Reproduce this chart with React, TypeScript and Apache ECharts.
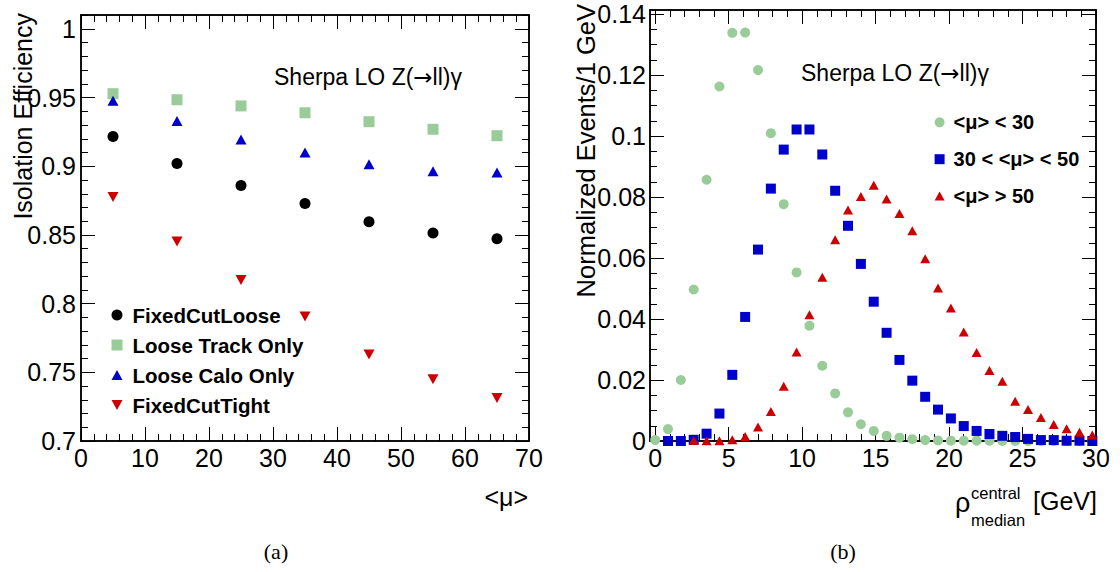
import React, { useEffect, useRef } from 'react';
import * as echarts from 'echarts';

const FONT = '"Liberation Sans", Arial, Helvetica, sans-serif';

// ---------- Panel (a): isolation efficiency vs <mu> ----------
const muValues = [5, 15, 25, 35, 45, 55, 65];
const fixedCutLoose = [0.9218, 0.902, 0.886, 0.873, 0.8597, 0.8515, 0.8473];
const looseTrackOnly = [0.9529, 0.9485, 0.944, 0.939, 0.9325, 0.927, 0.9223];
const looseCaloOnly = [0.9478, 0.933, 0.9195, 0.91, 0.9015, 0.8965, 0.8955];
const fixedCutTight = [0.8777, 0.8453, 0.8172, 0.7907, 0.763, 0.7449, 0.7314];
const muTicks = [0, 10, 20, 30, 40, 50, 60, 70];
const effTicks = [0.7, 0.75, 0.8, 0.85, 0.9, 0.95, 1];

// ---------- Panel (b): rho_median^central distributions ----------
const rhoValues = [
  0, 0.875, 1.75, 2.625, 3.5, 4.375, 5.25, 6.125, 7, 7.875, 8.75, 9.625, 10.5, 11.375,
  12.25, 13.125, 14, 14.875, 15.75, 16.625, 17.5, 18.375, 19.25, 20.125, 21, 21.875,
  22.75, 23.625, 24.5, 25.375, 26.25, 27.125, 28, 28.875, 29.75,
];
const lowMu = [
  0.0003, 0.0039, 0.02, 0.0497, 0.0857, 0.1163, 0.1339, 0.134, 0.1217, 0.101, 0.0777,
  0.0553, 0.0378, 0.0247, 0.0156, 0.0094, 0.0055, 0.0033, 0.0017, 0.0011, 0.0006, 0.0003,
  0.0002, 0.0001, 0.0001, 0.0001, 0.0001, 0, 0, 0, 0, 0, 0, 0, 0,
];
const midMu = [
  null, 0, 0, 0.0004, 0.0024, 0.009, 0.0217, 0.0407, 0.0628, 0.0828, 0.0956, 0.1022,
  0.1022, 0.094, 0.0821, 0.0706, 0.0581, 0.0457, 0.0355, 0.0266, 0.0198, 0.0145, 0.0103,
  0.0074, 0.0049, 0.0033, 0.0023, 0.0017, 0.0013, 0.0007, 0.0003, 0.0003, 0.0001, 0.0001, 0,
];
const highMu = [
  null, null, null, 0.0002, 0.0001, 0.0001, 0.0004, 0.0015, 0.0046, 0.0097, 0.018, 0.0292,
  0.0414, 0.0537, 0.066, 0.0758, 0.0802, 0.0839, 0.0794, 0.0746, 0.069, 0.0598, 0.0502,
  0.0436, 0.0358, 0.029, 0.0231, 0.0196, 0.013, 0.0103, 0.0077, 0.0054, 0.004, 0.0029, 0.002,
];
const rhoTicks = [0, 5, 10, 15, 20, 25, 30];
const eventTicks = [0, 0.02, 0.04, 0.06, 0.08, 0.1, 0.12, 0.14];

const GREEN = '#99cc99';
const BLUE = '#0000cc';
const RED = '#cc0000';
const UP_TRI = 'path://M5,0 L10,9 L0,9 Z';
const DOWN_TRI = 'path://M0,0 L10,0 L5,9 Z';

const pairs = (xs: number[], ys: (number | null)[]) =>
  xs.map((x, i) => [x, ys[i]]).filter((p) => p[1] !== null);

const steps = (a: number, b: number, s: number) => {
  const out: number[] = [];
  const n = Math.round((b - a) / s);
  for (let i = 0; i <= n; i++) out.push(+(a + i * s).toFixed(6));
  return out;
};

const fmt = (v: number) => String(+(+v).toFixed(4));

function mkAxis(
  gridIndex: number,
  position: string,
  min: number,
  max: number,
  ticks: number[],
  len: number,
  labels: number[] | null,
  margin = 5
) {
  return {
    type: 'value',
    gridIndex,
    position,
    min,
    max,
    axisLine: { show: true, onZero: false, lineStyle: { color: '#000', width: 1.5 } },
    axisTick: {
      show: true,
      inside: true,
      length: len,
      customValues: ticks,
      lineStyle: { color: '#000', width: 1 },
    },
    axisLabel: labels
      ? {
          show: true,
          customValues: labels,
          formatter: fmt,
          fontSize: 25,
          fontFamily: FONT,
          color: '#000',
          margin,
          showMinLabel: true,
          showMaxLabel: true,
          hideOverlap: false,
        }
      : { show: false },
    splitLine: { show: false },
    minorTick: { show: false },
    minorSplitLine: { show: false },
  };
}

export default function App() {
  const ref = useRef<HTMLDivElement>(null);

  useEffect(() => {
    if (!ref.current) return;
    const chart = echarts.init(ref.current, undefined, { renderer: 'svg' });

    const aX = [0, 70];
    const aY = [0.7, 1.0102];
    const bX = [-0.35, 30];
    const bY = [0, 0.1414];

    const aXMinor = steps(0, 70, 2);
    const aYMinor = steps(0.7, 1.01, 0.01);
    const bXMinor = steps(0, 30, 1);
    const bYMinor = steps(0, 0.14, 0.005);

    const MAJ = 14;
    const MIN = 7;

    const xAxis = [
      mkAxis(0, 'bottom', aX[0], aX[1], muTicks, MAJ, muTicks, 4),
      mkAxis(0, 'bottom', aX[0], aX[1], aXMinor, MIN, null),
      mkAxis(0, 'top', aX[0], aX[1], muTicks, MAJ, null),
      mkAxis(0, 'top', aX[0], aX[1], aXMinor, MIN, null),
      mkAxis(1, 'bottom', bX[0], bX[1], rhoTicks, MAJ, rhoTicks, 4),
      mkAxis(1, 'bottom', bX[0], bX[1], bXMinor, MIN, null),
      mkAxis(1, 'top', bX[0], bX[1], rhoTicks, MAJ, null),
      mkAxis(1, 'top', bX[0], bX[1], bXMinor, MIN, null),
    ];
    const yAxis = [
      mkAxis(0, 'left', aY[0], aY[1], effTicks, MAJ, effTicks, 5),
      mkAxis(0, 'left', aY[0], aY[1], aYMinor, MIN, null),
      mkAxis(0, 'right', aY[0], aY[1], effTicks, MAJ, null),
      mkAxis(0, 'right', aY[0], aY[1], aYMinor, MIN, null),
      mkAxis(1, 'left', bY[0], bY[1], eventTicks, MAJ, eventTicks, 4),
      mkAxis(1, 'left', bY[0], bY[1], bYMinor, MIN, null),
      mkAxis(1, 'right', bY[0], bY[1], eventTicks, MAJ, null),
      mkAxis(1, 'right', bY[0], bY[1], bYMinor, MIN, null),
    ];

    const titleStyle = (text: string, size = 25, extra: any = {}) => ({
      text,
      fontSize: size,
      fontFamily: FONT,
      fill: '#000',
      ...extra,
    });

    const sherpa = (x: number, y: number) => ({
      type: 'text',
      x,
      y,
      style: {
        text: '{a|Sherpa LO Z(}{b|→}{a|ll)γ}',
        fill: '#000',
        textAlign: 'left',
        textVerticalAlign: 'middle',
        rich: {
          a: { fontSize: 23, fontFamily: FONT, color: '#000' },
          b: { fontSize: 23, fontFamily: '"DejaVu Sans", sans-serif', color: '#000' },
        },
      },
    });

    const pt = { opacity: 1 };

    chart.setOption({
      animation: false,
      backgroundColor: '#fff',
      grid: [
        { left: 81, right: 591, top: 15, bottom: 131, outerBoundsMode: 'none', containLabel: false },
        { left: 650, right: 24, top: 10, bottom: 131, outerBoundsMode: 'none', containLabel: false },
      ],
      xAxis,
      yAxis,
      legend: [
        {
          orient: 'vertical',
          left: 111.5,
          top: 304.5,
          padding: 0,
          itemGap: 9,
          itemWidth: 11,
          itemHeight: 11,
          selectedMode: false,
          textStyle: {
            fontSize: 20.5, fontWeight: 'bold', fontFamily: FONT, color: '#000',
            padding: [0, 0, 0, 5],
          },
          data: ['FixedCutLoose', 'Loose Track Only', 'Loose Calo Only', 'FixedCutTight'],
        },
        {
          orient: 'vertical',
          left: 934.6,
          top: 112.3,
          padding: 0,
          itemGap: 16.9,
          itemWidth: 10,
          itemHeight: 10,
          selectedMode: false,
          textStyle: {
            fontSize: 20, fontWeight: 'bold', fontFamily: FONT, color: '#000',
            padding: [0, 0, 0, 4],
          },
          data: ['<μ> < 30', '30 < <μ> < 50', '<μ> > 50'],
        },
      ],
      series: [
        {
          type: 'scatter', name: 'FixedCutLoose', xAxisIndex: 0, yAxisIndex: 0,
          data: pairs(muValues, fixedCutLoose), symbol: 'circle', symbolSize: 11,
          itemStyle: { color: '#000', ...pt }, silent: true,
        },
        {
          type: 'scatter', name: 'Loose Track Only', xAxisIndex: 0, yAxisIndex: 0,
          data: pairs(muValues, looseTrackOnly), symbol: 'rect', symbolSize: 11,
          itemStyle: { color: GREEN, ...pt }, silent: true,
        },
        {
          type: 'scatter', name: 'Loose Calo Only', xAxisIndex: 0, yAxisIndex: 0,
          data: pairs(muValues, looseCaloOnly), symbol: UP_TRI, symbolSize: [11, 10],
          itemStyle: { color: BLUE, ...pt }, silent: true,
        },
        {
          type: 'scatter', name: 'FixedCutTight', xAxisIndex: 0, yAxisIndex: 0,
          data: pairs(muValues, fixedCutTight), symbol: DOWN_TRI, symbolSize: [11, 10],
          itemStyle: { color: RED, ...pt }, silent: true,
        },
        {
          type: 'scatter', name: '<μ> < 30', xAxisIndex: 4, yAxisIndex: 4,
          data: pairs(rhoValues, lowMu), symbol: 'circle', symbolSize: 10,
          itemStyle: { color: GREEN, ...pt }, silent: true,
        },
        {
          type: 'scatter', name: '30 < <μ> < 50', xAxisIndex: 4, yAxisIndex: 4,
          data: pairs(rhoValues, midMu), symbol: 'rect', symbolSize: 10,
          itemStyle: { color: BLUE, ...pt }, silent: true,
        },
        {
          type: 'scatter', name: '<μ> > 50', xAxisIndex: 4, yAxisIndex: 4,
          data: pairs(rhoValues, highMu), symbol: UP_TRI, symbolSize: [10, 9],
          itemStyle: { color: RED, ...pt }, silent: true,
        },
      ],
      graphic: [
        sherpa(274, 77),
        sherpa(801, 73),
        {
          type: 'text', x: 22.5, y: 13, rotation: Math.PI / 2,
          style: titleStyle('Isolation Efficiency', 25, { textAlign: 'right', textVerticalAlign: 'middle' }),
        },
        {
          type: 'text', x: 586, y: 4, rotation: Math.PI / 2,
          style: titleStyle('Normalized Events/1 GeV', 25.5, { textAlign: 'right', textVerticalAlign: 'middle' }),
        },
        {
          type: 'text', x: 528, y: 497,
          style: titleStyle('<μ>', 25, { textAlign: 'right', textVerticalAlign: 'middle' }),
        },
        {
          type: 'text', x: 955, y: 503,
          style: titleStyle('ρ', 27, { textAlign: 'left', textVerticalAlign: 'middle' }),
        },
        {
          type: 'text', x: 971, y: 493,
          style: titleStyle('central', 16.5, { textAlign: 'left', textVerticalAlign: 'middle' }),
        },
        {
          type: 'text', x: 971, y: 520,
          style: titleStyle('median', 16.5, { textAlign: 'left', textVerticalAlign: 'middle' }),
        },
        {
          type: 'text', x: 1097, y: 501,
          style: titleStyle('[GeV]', 25, { textAlign: 'right', textVerticalAlign: 'middle' }),
        },
        {
          type: 'text', x: 276, y: 551,
          style: {
            text: '(a)', fontSize: 22, fontFamily: '"Liberation Serif", "DejaVu Serif", serif',
            fill: '#000', textAlign: 'center', textVerticalAlign: 'middle',
          },
        },
        {
          type: 'text', x: 843, y: 551,
          style: {
            text: '(b)', fontSize: 22, fontFamily: '"Liberation Serif", "DejaVu Serif", serif',
            fill: '#000', textAlign: 'center', textVerticalAlign: 'middle',
          },
        },
      ],
    });

    return () => chart.dispose();
  }, []);

  return (
    <div
      ref={ref}
      style={{ position: 'absolute', left: 0, top: 0, width: 1120, height: 572, background: '#fff' }}
    />
  );
}
